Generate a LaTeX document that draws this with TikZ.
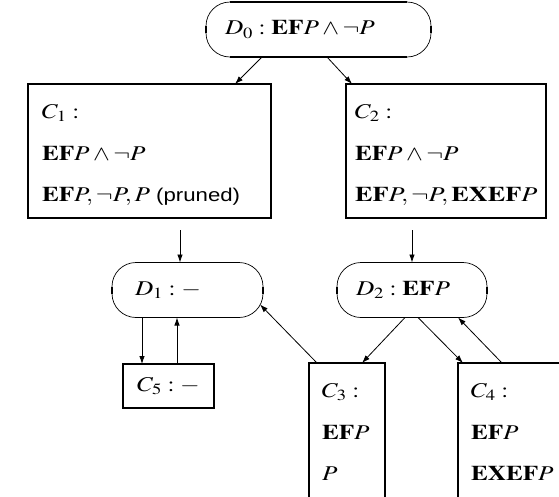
\documentclass[tikz,border=0pt]{standalone}
\usepackage{mathptmx}
\usepackage[no-math]{fontspec}
\setmainfont{Liberation Serif}
\setsansfont{Liberation Sans}
\usetikzlibrary{arrows.meta}
\newcommand\wideT[1]{\scalebox{1.2}[1]{#1}}
\begin{document}
\begin{tikzpicture}[x=1pt,y=1pt,
  box/.style={draw, line width=1.4pt, inner sep=0pt, outer sep=0pt},
  dshape/.style={inner sep=0pt, outer sep=0pt, minimum height=55pt, align=left,
    font=\fontsize{21}{25}\selectfont},
  txt/.style={inner sep=0pt, outer sep=0pt, anchor=base west, font=\fontsize{21}{25}\selectfont},
  arr/.style={-{Latex[length=8pt,width=5.5pt]}, line width=0.8pt},
  thickline/.style={line width=1.4pt},
  thinline/.style={line width=0.7pt},
]
\useasboundingbox (0,0) rectangle (559,-496);

% rounded D nodes
\node[dshape, text width=187pt, inner xsep=19pt] (D0) at (318.5,-29.5) {\wideT{$D_0:\mathbf{EF}P\wedge\neg P$}};
\node[dshape, text width=105pt, inner xsep=23pt] (D1) at (187.5,-290) {\wideT{$D_1:-$}};
\node[dshape, text width=112pt, inner xsep=19pt] (D2) at (412,-290) {\wideT{$D_2:\mathbf{EF}P$}};

\foreach \n in {D0,D1,D2}{
  \draw[thickline] ([xshift=24pt]\n.north west) -- ([xshift=-24pt]\n.north east);
  \draw[thickline] ([xshift=24pt]\n.south west) -- ([xshift=-24pt]\n.south east);
  \draw[thinline] ([xshift=24pt]\n.north west) arc[start angle=90,end angle=180,radius=24pt]
     -- ++(0,-7pt) arc[start angle=180,end angle=270,radius=24pt];
  \draw[thinline] ([xshift=-24pt]\n.north east) arc[start angle=90,end angle=0,radius=24pt]
     -- ++(0,-7pt) arc[start angle=0,end angle=-90,radius=24pt];
  \draw[thickline] ([yshift=3.5pt]\n.west) -- ([yshift=-3.5pt]\n.west);
  \draw[thickline] ([yshift=3.5pt]\n.east) -- ([yshift=-3.5pt]\n.east);
}

% rectangular C nodes
\node[box, minimum width=243pt, minimum height=134pt] (C1) at (149.5,-151) {};
\node[box, minimum width=200pt, minimum height=134pt] (C2) at (446,-151) {};
\node[box, minimum width=91pt, minimum height=44pt, font=\fontsize{21}{25}\selectfont] (C5) at (168.5,-386) {\wideT{$C_5:-$}};
\node[box, minimum width=76pt, minimum height=157pt] (C3) at (347,-441.5) {};
\node[box, minimum width=122pt, minimum height=157pt] (C4) at (519,-441.5) {};

% texts
\node[txt] (C1a) at ([shift={(14,-34)}]C1.north west) {\wideT{$C_1:$}};
\node[txt] (C1b) at ([shift={(14,-76)}]C1.north west) {\wideT{$\mathbf{EF}P\wedge\neg P$}};
\node[txt] (C1c) at ([shift={(14,-117)}]C1.north west) {\wideT{$\mathbf{EF}P,\neg P,P$ {\fontsize{18.5}{25}\selectfont\textsf{(pruned)}}}};

\node[txt] (C2a) at ([shift={(9,-34)}]C2.north west) {\wideT{$C_2:$}};
\node[txt] (C2b) at ([shift={(9,-76)}]C2.north west) {\wideT{$\mathbf{EF}P\wedge\neg P$}};
\node[txt] (C2c) at ([shift={(9,-117)}]C2.north west) {\scalebox{1.25}[1]{$\mathbf{EF}P,\neg P,\mathbf{EXEF}P$}};

\node[txt] (C3a) at ([shift={(13,-34)}]C3.north west) {\wideT{$C_3:$}};
\node[txt] (C3b) at ([shift={(13,-76)}]C3.north west) {\wideT{$\mathbf{EF}P$}};
\node[txt] (C3c) at ([shift={(13,-117)}]C3.north west) {\wideT{$P$}};

\node[txt] (C4a) at ([shift={(13,-34)}]C4.north west) {\wideT{$C_4:$}};
\node[txt] (C4b) at ([shift={(13,-76)}]C4.north west) {\wideT{$\mathbf{EF}P$}};
\node[txt] (C4c) at ([shift={(13,-117)}]C4.north west) {\wideT{$\mathbf{EXEF}P$}};

% connectors
\draw[arr] ([xshift=56pt]D0.south west) -- ([xshift=-36pt]C1.north east);
\draw[arr] ([xshift=121pt]D0.south west) -- ([xshift=6pt]C2.north west);
\draw[arr, shorten <=12pt] ([xshift=152pt]C1.south west) -- ([xshift=68pt]D1.north west);
\draw[arr, shorten <=12pt] ([xshift=66pt]C2.south west) -- (D2.north);
\draw[arr] ([xshift=30pt]D1.south west) -- ([xshift=19pt]C5.north west);
\draw[arr] ([xshift=54pt]C5.north west) -- ([xshift=65pt]D1.south west);
\draw[arr] ([xshift=8pt]C3.north west) -- ([shift={(-3,13)}]D1.south east);
\draw[arr] ([xshift=68pt]D2.south west) -- ([xshift=53pt]C3.north west);
\draw[arr] ([xshift=81pt]D2.south west) -- ([xshift=5pt]C4.north west);
\draw[arr] ([xshift=44pt]C4.north west) -- ([xshift=-29pt]D2.south east);
\end{tikzpicture}
\end{document}
